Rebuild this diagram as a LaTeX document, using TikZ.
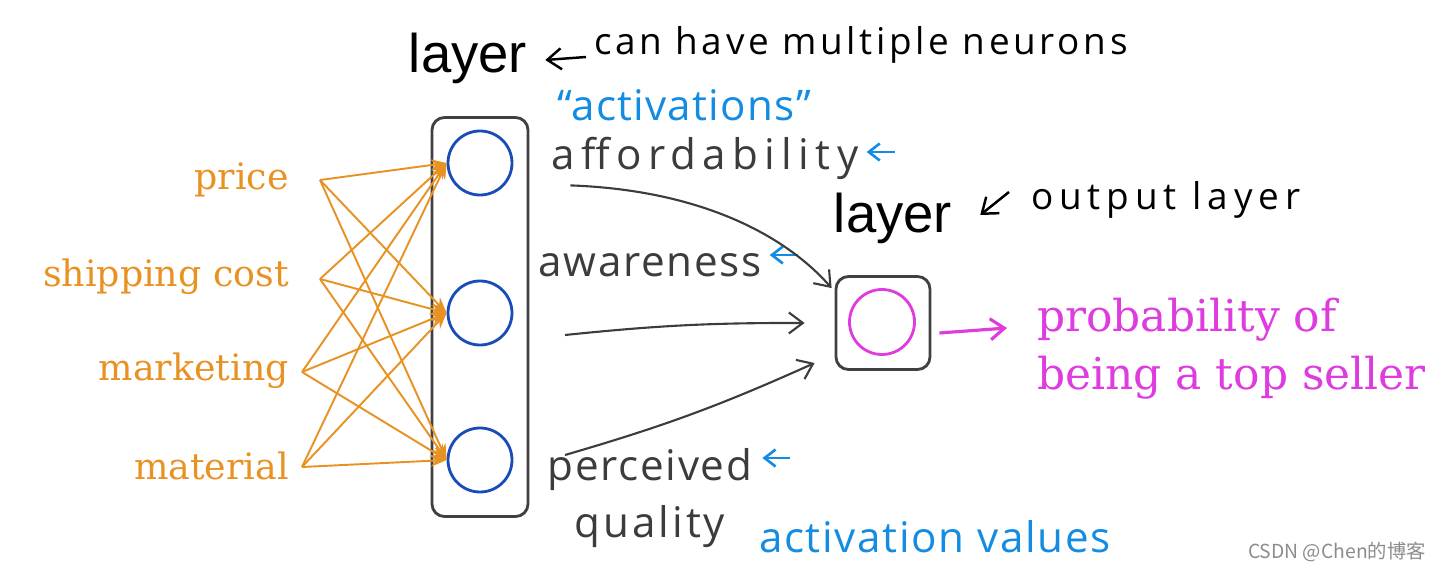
\documentclass[tikz,border=0pt]{standalone}
\usepackage{fontspec}
\setmainfont{DejaVu Serif}
\newfontfamily\handfont{Open Sans}
\newfontfamily\layerfont{Liberation Sans}
\newfontfamily\cjkfont{Noto Sans CJK SC}
\usetikzlibrary{arrows.meta}

\definecolor{inorange}{RGB}{232,146,35}
\definecolor{neuronblue}{RGB}{25,75,185}
\definecolor{noteblue}{RGB}{20,140,225}
\definecolor{outmagenta}{RGB}{222,60,222}
\definecolor{penink}{RGB}{60,60,60}

\begin{document}
\begin{tikzpicture}[x=0.2mm, y=-0.2mm,
    input/.style = {anchor=east, text=inorange, font=\fontsize{20.7}{24}\selectfont},
    neuron/.style = {circle, draw=neuronblue, line width=1.6pt, minimum size=12.8mm},
    layerbox/.style = {draw=black!75, line width=1.6pt, rounded corners=2.5mm},
    layerword/.style = {font=\layerfont\fontsize{31}{36}\selectfont},
    pen/.style = {text=penink, font=\handfont\addfontfeature{LetterSpace=#1}\fontsize{24}{28}\selectfont},
    pen/.default = 4,
    ink/.style = {text=black, font=\handfont\addfontfeature{LetterSpace=#1}\fontsize{21}{25}\selectfont},
    note/.style = {text=noteblue, font=\handfont\addfontfeature{LetterSpace=#1}\fontsize{24}{28}\selectfont},
    note/.default = 3,
    wire/.style = {draw=inorange, line width=1.1pt, -{Stealth[length=3.2mm,width=2.4mm]}},
    stroke/.style = {draw=penink, line width=1.2pt, -{Straight Barb[length=2.8mm,width=4.2mm]}},
    tick/.style = {draw=noteblue, line width=1.5pt, -{Straight Barb[length=2.2mm,width=3.4mm]}}]
\useasboundingbox (0,0) rectangle (1443,571);

% inputs
\node[input] (price) at (295,180) {price};
\node[input] (ship) at (295,277) {shipping cost};
\node[input] (mkt) at (295,371) {marketing};
\node[input] (mat) at (295,466) {material};
\coordinate (in1) at (320,180);
\coordinate (in2) at (320,279);
\coordinate (in3) at (302,372);
\coordinate (in4) at (302,467);

% hidden layer
\node[layerbox, minimum width=19.2mm, minimum height=79.8mm] (hidden) at (480,317) {};
\node[neuron] (h1) at (480,163) {};
\node[neuron] (h2) at (480,313) {};
\node[neuron] (h3) at (480,460) {};
\foreach \i in {1,...,4}
    \foreach \j in {1,2,3}
        \draw[wire] (in\i) -- (h\j.west);

\node[layerword] (toplayer) at (468,58) {layer};
\node[ink=10, anchor=west] (multi) at (588,45) {can have multiple neurons};
\draw[stroke, draw=black, line width=1.4pt] ([shift={(-2,12)}]multi.west) -- ([shift={(12,2)}]toplayer.east);

% activations
\node[note] (activ) at (684,105) {“activations”};
\node[pen=15] (afford) at (705,158) {affordability};
\node[pen] (aware) at (650,265) {awareness};
\node[pen] (perc) at (650,470) {perceived};
\node[pen=7] (qual) at (650,527) {quality};
\node[note=4] (actval) at (935,537) {activation values};
\draw[tick] ([shift={(30,-6)}]afford.east) -- ([shift={(2,-6)}]afford.east);
\draw[tick] ([shift={(30,-10)}]aware.east) -- ([shift={(2,-10)}]aware.east);
\draw[tick] ([shift={(32,-12)}]perc.east) -- ([shift={(4,-12)}]perc.east);

% output layer
\node[layerbox, minimum width=18.8mm, minimum height=18.6mm] (out) at (883,323) {};
\node[neuron, draw=outmagenta, minimum size=13mm] (o) at (882,322) {};
\node[layerword] (outlayer) at (893,218) {layer};
\node[ink=16, anchor=west] (outnote) at (1025,200) {output layer};
\draw[stroke, draw=black, line width=1.4pt] ([shift={(-16,-8)}]outnote.west) -- ([shift={(22,-3)}]outlayer.east);

\coordinate (a2) at (565,335);
\coordinate (a3) at (565,455);
\draw[stroke] ([shift={(25,0)}]afford.south west) .. controls (700,190) and (785,235) .. ([shift={(-3,13)}]out.north west);
\draw[stroke] (a2) to[bend left=3] ([shift={(-30,0)}]out.west);
\draw[stroke] (a3) to[bend right=4] ([shift={(-20,40)}]out.west);

\node[anchor=west, align=left, text=outmagenta, font=\fontsize{25}{33}\selectfont] (prob) at (1031,349) {probability of\\being a top seller};
\draw[stroke, draw=outmagenta, line width=1.8pt] ([shift={(8,10)}]out.east) -- ([shift={(-24,-21)}]prob.west);

\node[anchor=east, text=black!45, font=\cjkfont\fontsize{11}{13}\selectfont] (mark) at (1432,552) {CSDN @Chen的博客};
\end{tikzpicture}
\end{document}
